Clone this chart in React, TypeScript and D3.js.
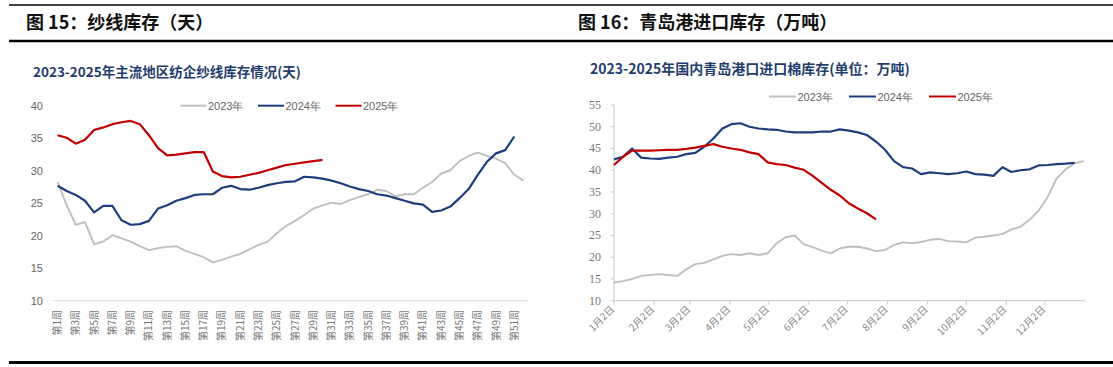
import React from 'react';
import * as d3 from 'd3';

// 图15 纱线库存（天）— weekly, 2023-2025
const weekCats = Array.from({ length: 52 }, (_, i) => `第${i + 1}周`);
const yarn2023 = [28.3, 24.7, 21.7, 22.1, 18.7, 19.1, 20.1, 19.6, 19.1, 18.4, 17.8, 18.1, 18.3, 18.4, 17.7, 17.2, 16.7, 15.9, 16.3, 16.8, 17.2, 17.9, 18.6, 19.1, 20.4, 21.5, 22.3, 23.2, 24.2, 24.7, 25.1, 24.9, 25.5, 26.0, 26.4, 27.1, 26.9, 26.1, 26.4, 26.4, 27.4, 28.3, 29.6, 30.1, 31.5, 32.3, 32.8, 32.3, 31.9, 31.2, 29.4, 28.5];
const yarn2024 = [27.7, 26.9, 26.3, 25.4, 23.6, 24.6, 24.6, 22.4, 21.7, 21.8, 22.3, 24.2, 24.7, 25.4, 25.8, 26.3, 26.4, 26.4, 27.4, 27.7, 27.2, 27.1, 27.4, 27.8, 28.1, 28.3, 28.4, 29.1, 29.0, 28.8, 28.5, 28.1, 27.6, 27.2, 26.9, 26.4, 26.2, 25.8, 25.4, 25.0, 24.8, 23.7, 23.9, 24.5, 25.8, 27.2, 29.4, 31.4, 32.7, 33.2, 35.3];
const yarn2025 = [35.5, 35.1, 34.2, 34.8, 36.3, 36.7, 37.2, 37.5, 37.7, 37.2, 35.5, 33.5, 32.4, 32.5, 32.7, 32.9, 32.9, 29.9, 29.2, 29.0, 29.1, 29.4, 29.7, 30.1, 30.5, 30.9, 31.1, 31.3, 31.5, 31.7];
const yarnTicks = [10, 15, 20, 25, 30, 35, 40];

// 图16 青岛港进口库存（万吨）— weekly from 1月2日
const port2023 = [14.2, 14.5, 15.0, 15.7, 15.9, 16.1, 15.9, 15.7, 17.2, 18.4, 18.7, 19.5, 20.3, 20.7, 20.5, 20.9, 20.5, 20.9, 23.2, 24.6, 25.0, 23.0, 22.3, 21.5, 20.9, 22.0, 22.4, 22.4, 22.0, 21.4, 21.7, 22.8, 23.4, 23.2, 23.5, 24.0, 24.2, 23.7, 23.6, 23.4, 24.5, 24.7, 25.0, 25.3, 26.4, 27.0, 28.6, 30.7, 33.8, 38.1, 40.2, 41.6, 42.1];
const port2024 = [42.5, 43.1, 45.0, 42.9, 42.7, 42.6, 42.9, 43.1, 43.7, 44.0, 45.4, 47.3, 49.6, 50.6, 50.8, 50.0, 49.6, 49.4, 49.3, 48.9, 48.7, 48.7, 48.7, 48.9, 48.9, 49.4, 49.1, 48.7, 48.1, 46.6, 44.7, 42.1, 40.7, 40.4, 39.1, 39.5, 39.3, 39.1, 39.3, 39.7, 39.1, 39.0, 38.7, 40.7, 39.6, 40.0, 40.2, 41.1, 41.2, 41.4, 41.5, 41.7];
const port2025 = [41.2, 43.1, 44.5, 44.5, 44.5, 44.6, 44.7, 44.7, 44.9, 45.2, 45.6, 46.0, 45.4, 45.0, 44.7, 44.1, 43.7, 41.8, 41.4, 41.2, 40.6, 40.1, 38.7, 37.1, 35.5, 34.2, 32.4, 31.2, 30.1, 28.7];
const portTicks = [10, 15, 20, 25, 30, 35, 40, 45, 50, 55];
const monthLabels = ['1月2日', '2月2日', '3月2日', '4月2日', '5月2日', '6月2日', '7月2日', '8月2日', '9月2日', '10月2日', '11月2日', '12月2日'];

const years = ['2023年', '2024年', '2025年'];
const colors = ['#BFBFBF', '#1F3D7A', '#C00000'];

const sans = '"Liberation Sans", Arial, sans-serif';
const serif = '"Liberation Serif", "Times New Roman", serif';
const cjk = '"Noto Sans CJK SC", sans-serif';

const App = () => {
  // left chart scales
  const xL = d3.scaleBand<string>().domain(weekCats).range([53, 528]);
  const cxL = (i: number) => (xL(weekCats[i]) as number) + xL.bandwidth() / 2;
  const yL = d3.scaleLinear().domain([10, 40]).range([300.7, 106]);
  const lineL = d3.line<number>().x((d, i) => cxL(i)).y(d => yL(d));

  // right chart scales
  const t0 = new Date(2023, 0, 2);
  const xR = d3.scaleTime().domain([t0, new Date(2024, 0, 2)]).range([614, 1085]);
  const dateOf = (i: number) => d3.timeDay.offset(t0, 7 * i);
  const yR = d3.scaleLinear().domain([10, 55]).range([300.7, 105]);
  const lineR = d3.line<number>().x((d, i) => xR(dateOf(i))).y(d => yR(d));
  const monthTicks = monthLabels.map((_, m) => new Date(2023, m, 2));

  const yarnSeries = [yarn2023, yarn2024, yarn2025];
  const portSeries = [port2023, port2024, port2025];

  return (
    <svg width={1113} height={367} style={{ position: 'absolute', left: 0, top: 0, background: '#fff' }}>
      <rect width={1113} height={367} fill="#fff" />
      {/* header rules */}
      <line x1={9} x2={1113} y1={5} y2={5} stroke="#000" strokeWidth={1.3} />
      <line x1={9} x2={1113} y1={41} y2={41} stroke="#000" strokeWidth={2.6} />
      <line x1={9} x2={1113} y1={362.5} y2={362.5} stroke="#000" strokeWidth={3} />

      <text x={26} y={29} fontFamily={cjk} fontWeight={700} fontSize={18} fill="#111">图 15：纱线库存（天）</text>
      <text x={578} y={29} fontFamily={cjk} fontWeight={700} fontSize={18} fill="#111">图 16：青岛港进口库存（万吨）</text>

      {/* ---------- left chart ---------- */}
      <text x={33} y={77} fontFamily={cjk} fontWeight={700} fontSize={13.5} fill="#1F3D6E">2023-2025年主流地区纺企纱线库存情况(天)</text>
      {years.map((y, k) => (
        <g key={y} transform={`translate(${180.5 + k * 77.5},105.7)`}>
          <line x1={0} x2={26} stroke={colors[k]} strokeWidth={2} />
          <text x={27.5} y={4} fontFamily={sans} fontSize={11} fill="#666">{y}</text>
        </g>
      ))}
      {yarnTicks.map(t => (
        <text key={t} x={43} y={yL(t) + 4} textAnchor="end" fontFamily={sans} fontSize={11} fill="#666">{t}</text>
      ))}
      <line x1={53} x2={528} y1={yL(10)} y2={yL(10)} stroke="#D9D9D9" strokeWidth={1} />
      {weekCats.map((w, i) => i % 2 === 0 && (
        <text key={w} transform={`translate(${cxL(i) + 3.5},310) rotate(-90)`} textAnchor="end" fontFamily={cjk} fontSize={10} fill="#777">{w}</text>
      ))}
      {yarnSeries.map((s, k) => (
        <path key={k} d={lineL(s) || ''} fill="none" stroke={colors[k]} strokeWidth={k === 0 ? 1.9 : 2.2} strokeLinejoin="round" />
      ))}

      {/* ---------- right chart ---------- */}
      <text x={590} y={74} fontFamily={cjk} fontWeight={700} fontSize={14} fill="#1F3D6E">2023-2025年国内青岛港口进口棉库存(单位：万吨)</text>
      {years.map((y, k) => (
        <g key={y} transform={`translate(${769 + k * 80},96.5)`}>
          <line x1={0} x2={27} stroke={colors[k]} strokeWidth={2} />
          <text x={28.5} y={4} fontFamily={sans} fontSize={11} fill="#666">{y}</text>
        </g>
      ))}
      <line x1={614} x2={614} y1={yR(55)} y2={yR(10)} stroke="#C8C8C8" strokeWidth={1} />
      {portTicks.map(t => (
        <g key={t}>
          <line x1={611} x2={614} y1={yR(t)} y2={yR(t)} stroke="#C8C8C8" />
          <text x={601} y={yR(t) + 4} textAnchor="end" fontFamily={serif} fontSize={12} fill="#777">{t}</text>
        </g>
      ))}
      <line x1={614} x2={1085} y1={yR(10)} y2={yR(10)} stroke="#C8C8C8" strokeWidth={1} />
      {monthTicks.map((d, m) => (
        <g key={m}>
          <line x1={xR(d)} x2={xR(d)} y1={yR(10)} y2={yR(10) + 4} stroke="#C8C8C8" />
          <text transform={`translate(${xR(d) + 1},310) rotate(-45)`} textAnchor="end" fontFamily={cjk} fontSize={10} fill="#888">{monthLabels[m]}</text>
        </g>
      ))}
      {portSeries.map((s, k) => (
        <path key={k} d={lineR(s) || ''} fill="none" stroke={colors[k]} strokeWidth={k === 0 ? 1.9 : 2.2} strokeLinejoin="round" />
      ))}
    </svg>
  );
};

export default App;
